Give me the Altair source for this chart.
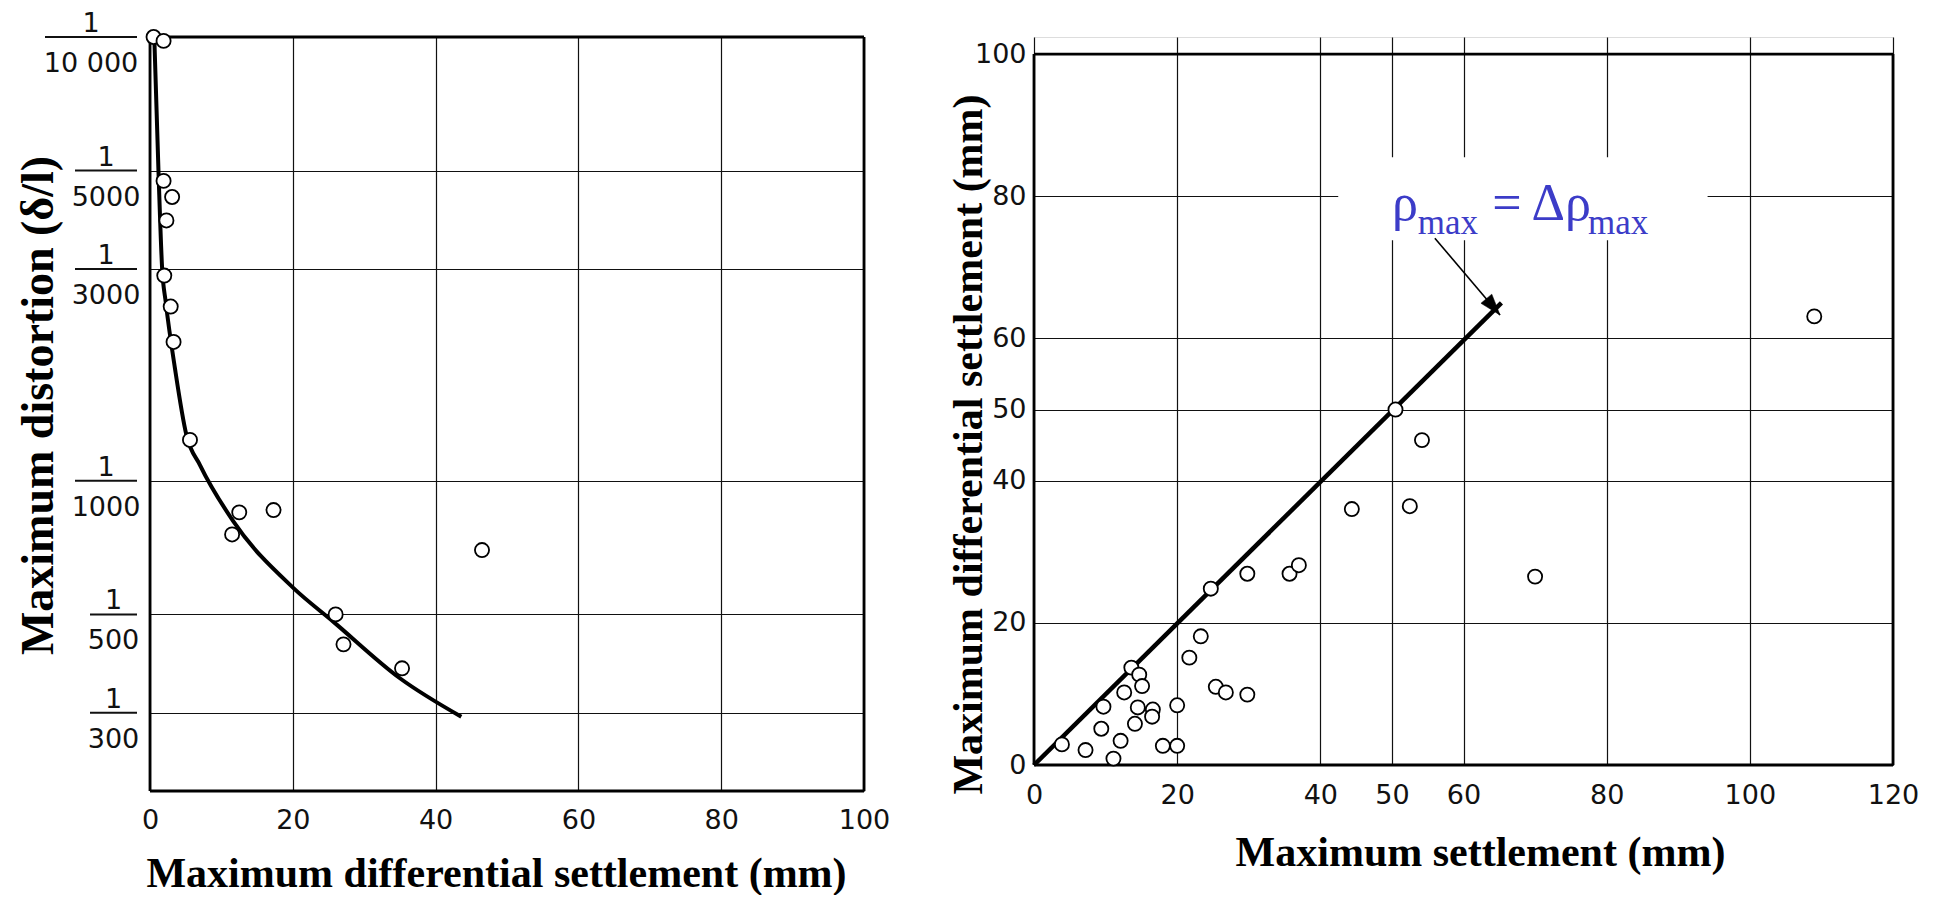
import altair as alt
import pandas as pd

# ---------------- Left panel: distortion vs differential settlement ----------------
left_settle = [0.5, 1.9, 1.9, 3.1, 2.3, 2.0, 2.9, 3.3, 5.6, 12.5, 11.5, 17.3, 46.5, 26.0, 27.1, 35.3]
left_denom = [10000, 9800, 4740, 4360, 3860, 2900, 2470, 2055, 1236, 849, 757, 859, 698, 500, 428, 378]

curve_settle = [0.6, 1.2, 1.7, 2.2, 3.5, 5.1, 7.0, 11.7, 20.1, 25.7, 35.0, 43.6]
curve_denom = [10000, 4910, 3005, 2530, 1790, 1268, 1085, 809, 573, 481, 359, 294]

left_tick_values = [10000, 5000, 3000, 1000, 500, 300]
left_tick_denoms = ["10 000", "5000", "3000", "1000", "500", "300"]
left_x_ticks = [0, 20, 40, 60, 80, 100]
left_x_domain = [0, 100]
left_y_domain = [200, 10000]

# ---------------- Right panel: differential vs total settlement ----------------
right_settle = [3.9, 7.2, 11.1, 12.1, 9.4, 9.7, 12.6, 13.6, 14.7, 15.1, 14.5, 14.1, 16.6, 16.5,
                18.0, 20.0, 20.0, 21.7, 23.3, 24.7, 25.4, 26.8, 29.8, 29.8, 35.7, 37.0, 44.4,
                52.5, 54.2, 50.5, 70.0, 109.0]
right_diff = [2.9, 2.1, 0.9, 3.4, 5.1, 8.2, 10.2, 13.7, 12.7, 11.1, 8.1, 5.8, 7.8, 6.8,
              2.7, 2.7, 8.4, 15.1, 18.1, 24.8, 11.0, 10.2, 9.9, 26.9, 26.9, 28.1, 36.0,
              36.4, 45.7, 50.0, 26.5, 63.1]

equal_line_settle = [0, 65.3]
equal_line_diff = [0, 65.0]

right_x_ticks = [0, 20, 40, 50, 60, 80, 100, 120]
right_y_ticks = [0, 20, 40, 50, 60, 80, 100]
right_x_max = 120
right_y_max = 100

ann_main_text = ["ρ", "= Δρ"]
ann_main_x = [50.0, 64.0]
ann_main_y = [76.7, 76.7]
ann_sub_text = ["max", "max"]
ann_sub_x = [53.6, 77.4]
ann_sub_y = [74.7, 74.7]
ann_box = {"x": 42.5, "x2": 94.1, "y": 73.8, "y2": 85.5}
arrow_x = [56.0, 65.1]
arrow_y = [74.1, 63.3]

SERIF = "Liberation Serif"
SANS = "DejaVu Sans"
INK = "#111111"
BLUE = "#3c3cc8"
GRID_W = 1.2
FRAME_W = 2.8

# ================= LEFT =================
xl = alt.X("settle:Q",
           scale=alt.Scale(domain=left_x_domain, nice=False, zero=False),
           axis=alt.Axis(values=left_x_ticks, grid=True, gridColor=INK, gridWidth=GRID_W,
                         gridOpacity=1, domain=False, ticks=False, tickSize=0, labelFlush=False,
                         labelFont=SANS, labelFontSize=27, labelColor=INK, labelPadding=16,
                         title="Maximum differential settlement (mm)",
                         titleFont=SERIF, titleFontSize=42, titleFontWeight="bold",
                         titleColor="black", titleX=346, titleY=95,
                         titleBaseline="alphabetic", titleAlign="center"))
yl = alt.Y("denom:Q",
           scale=alt.Scale(type="log", domain=left_y_domain, nice=False),
           axis=alt.Axis(values=left_tick_values, grid=True, gridColor=INK, gridWidth=GRID_W,
                         gridOpacity=1, domain=False, ticks=False, tickSize=0, labels=False,
                         title="Maximum distortion (δ/l)",
                         titleFont=SERIF, titleFontSize=46, titleFontWeight="bold",
                         titleColor="black", titleAngle=270, titleX=-112, titleY=368,
                         titleBaseline="middle", titleAlign="center"))

left_frame = pd.DataFrame({
    "settle": [left_x_domain[0], left_x_domain[1], left_x_domain[0], left_x_domain[0]],
    "settle2": [left_x_domain[0], left_x_domain[1], left_x_domain[1], left_x_domain[1]],
    "denom": [left_y_domain[0], left_y_domain[0], left_y_domain[1], left_y_domain[0]],
    "denom2": [left_y_domain[1], left_y_domain[1], left_y_domain[1], left_y_domain[0]],
})
l_frame = alt.Chart(left_frame).mark_rule(color="black", strokeWidth=FRAME_W).encode(
    x=xl, x2="settle2:Q", y=yl, y2="denom2:Q")

l_curve = alt.Chart(pd.DataFrame({"settle": curve_settle, "denom": curve_denom})).mark_line(
    color="black", strokeWidth=4, interpolate="monotone").encode(x=xl, y=yl)

l_pts = alt.Chart(pd.DataFrame({"settle": left_settle, "denom": left_denom})).mark_point(
    shape="circle", filled=True, fill="white", stroke="black", strokeWidth=1.8,
    size=200, opacity=1).encode(x=xl, y=yl)

frac = alt.Chart(pd.DataFrame({"denom": left_tick_values, "den": left_tick_denoms})).transform_calculate(
    bw="length(datum.den) * 15 + 2",
    bx2="-13",
).transform_calculate(
    bx1="datum.bx2 - datum.bw",
    bc="datum.bx2 - datum.bw / 2",
)
l_bar = frac.mark_rule(color=INK, strokeWidth=2).encode(
    x=alt.X("bx1:Q", scale=None, axis=None), x2="bx2:Q", y=yl)
l_num = frac.mark_text(font=SANS, fontSize=27, color=INK, baseline="middle", align="center",
                       dy=-13).encode(x=alt.X("bc:Q", scale=None, axis=None), y=yl,
                                      text=alt.value("1"))
l_den = frac.mark_text(font=SANS, fontSize=27, color=INK, baseline="middle", align="center",
                       dy=27).encode(x=alt.X("bc:Q", scale=None, axis=None), y=yl,
                                     text="den:N")

left = alt.layer(l_frame, l_curve, l_pts, l_bar, l_num, l_den).properties(width=714, height=754)

# ================= RIGHT =================
right_y_top = 102.4
xr = alt.X("settle:Q",
           scale=alt.Scale(domain=[0, right_x_max], nice=False, zero=False),
           axis=alt.Axis(values=right_x_ticks, grid=True, gridColor=INK, gridWidth=GRID_W,
                         gridOpacity=1, domain=False, ticks=False, tickSize=0, labelFlush=False,
                         labelFont=SANS, labelFontSize=27, labelColor=INK, labelPadding=17,
                         title="Maximum settlement (mm)",
                         titleFont=SERIF, titleFontSize=42, titleFontWeight="bold",
                         titleColor="black", titleX=446, titleY=100,
                         titleBaseline="alphabetic", titleAlign="center"))
yr = alt.Y("diff:Q",
           scale=alt.Scale(domain=[0, right_y_top], nice=False, zero=False),
           axis=alt.Axis(values=right_y_ticks, grid=True, gridColor=INK, gridWidth=GRID_W,
                         gridOpacity=1, domain=False, ticks=False, tickSize=0,
                         labelFont=SANS, labelFontSize=27, labelColor=INK, labelPadding=8,
                         title="Maximum differential settlement (mm)",
                         titleFont=SERIF, titleFontSize=42, titleFontWeight="bold",
                         titleColor="black", titleAngle=270, titleX=-66, titleY=407,
                         titleBaseline="middle", titleAlign="center"))

right_frame = pd.DataFrame({
    "settle": [0, right_x_max, 0, 0],
    "settle2": [0, right_x_max, right_x_max, right_x_max],
    "diff": [0, 0, right_y_max, 0],
    "diff2": [right_y_max, right_y_max, right_y_max, 0],
})
r_box = alt.Chart(pd.DataFrame({"settle": [ann_box["x"]], "settle2": [ann_box["x2"]],
                                "diff": [ann_box["y"]], "diff2": [ann_box["y2"]]})).mark_rect(
    color="white", opacity=1).encode(x=xr, x2="settle2:Q", y=yr, y2="diff2:Q")
r_frame = alt.Chart(right_frame).mark_rule(color="black", strokeWidth=FRAME_W).encode(
    x=xr, x2="settle2:Q", y=yr, y2="diff2:Q")
r_line = alt.Chart(pd.DataFrame({"settle": equal_line_settle, "diff": equal_line_diff})).mark_line(
    color="black", strokeWidth=4.5).encode(x=xr, y=yr)
r_arrow = alt.Chart(pd.DataFrame({"settle": arrow_x, "diff": arrow_y})).mark_line(
    color="black", strokeWidth=1.6).encode(x=xr, y=yr)
r_head = alt.Chart(pd.DataFrame({"settle": arrow_x[1:], "diff": arrow_y[1:]})).mark_point(
    shape="M0,0L0.5,1.5L-0.5,1.5Z", angle=140, filled=True, fill="black", stroke="black",
    strokeWidth=0.5, size=800, opacity=1).encode(x=xr, y=yr)
r_pts = alt.Chart(pd.DataFrame({"settle": right_settle, "diff": right_diff})).mark_point(
    shape="circle", filled=True, fill="white", stroke="black", strokeWidth=1.8,
    size=200, opacity=1).encode(x=xr, y=yr)
r_main = alt.Chart(pd.DataFrame({"settle": ann_main_x, "diff": ann_main_y, "txt": ann_main_text})).mark_text(
    font=SERIF, fontSize=52, color=BLUE, align="left", baseline="alphabetic").encode(
    x=xr, y=yr, text="txt:N")
r_sub = alt.Chart(pd.DataFrame({"settle": ann_sub_x, "diff": ann_sub_y, "txt": ann_sub_text})).mark_text(
    font=SERIF, fontSize=35, color=BLUE, align="left", baseline="alphabetic").encode(
    x=xr, y=yr, text="txt:N")

right = alt.layer(r_box, r_frame, r_line, r_arrow, r_head, r_pts, r_main, r_sub).properties(
    width=859, height=728)

chart = alt.hconcat(left, right, spacing=170, bounds="flush").properties(
    padding={"left": 6, "top": 1, "right": 0, "bottom": 0}
).configure_view(stroke=None).configure(background="white")

chart.save("out.html", embed_options={"renderer": "svg", "actions": False})
